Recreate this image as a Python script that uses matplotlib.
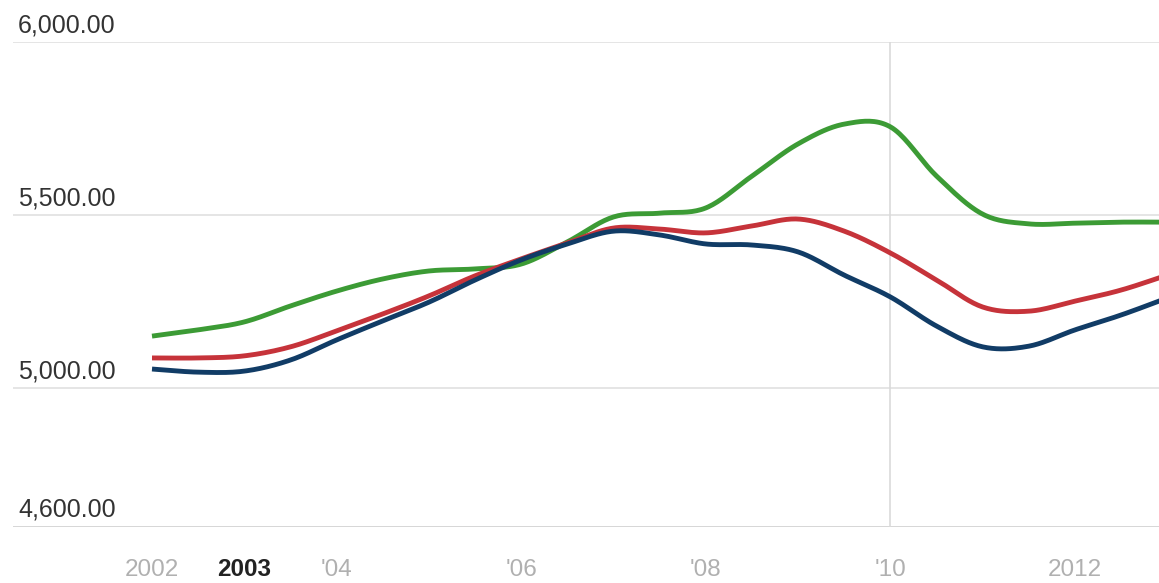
import numpy as np
import matplotlib
matplotlib.use("Agg")
import matplotlib.pyplot as plt

# Datos (cada medio año de 2002 a 2013)
anios = np.arange(2002.0, 2013.01, 0.5)

serie_verde = [5151, 5169, 5192, 5238, 5281, 5316, 5339, 5345, 5359, 5423, 5495, 5506,
               5521, 5613, 5706, 5763, 5755, 5613, 5503, 5475, 5477, 5480, 5480]
serie_roja = [5088, 5088, 5094, 5120, 5166, 5215, 5267, 5325, 5374, 5420, 5463, 5460,
              5449, 5469, 5489, 5454, 5391, 5313, 5235, 5223, 5252, 5284, 5327]
serie_azul = [5056, 5047, 5050, 5082, 5140, 5195, 5249, 5313, 5371, 5417, 5454, 5443,
              5417, 5414, 5394, 5327, 5264, 5180, 5120, 5122, 5169, 5212, 5261]

valores_y = [4600, 5000, 5500, 6000]
etiquetas_y = ["4,600.00", "5,000.00", "5,500.00", "6,000.00"]

posiciones_x = [2002, 2003, 2004, 2006, 2008, 2010, 2012]
etiquetas_x = ["2002", "2003", "'04", "'06", "'08", "'10", "2012"]
seleccion = "2003"
linea_vertical = 2010

colores = {"verde": "#3c9b35", "roja": "#c6333a", "azul": "#113c66"}


def suavizar(x, y, n=20):
    # curva Catmull-Rom para dibujar la línea suave
    x = np.asarray(x, float)
    y = np.asarray(y, float)
    px = np.concatenate([[2 * x[0] - x[1]], x, [2 * x[-1] - x[-2]]])
    py = np.concatenate([[2 * y[0] - y[1]], y, [2 * y[-1] - y[-2]]])
    xs, ys = [], []
    t = np.linspace(0, 1, n, endpoint=False)
    for i in range(1, len(px) - 2):
        for p, out in ((px, xs), (py, ys)):
            p0, p1, p2, p3 = p[i - 1], p[i], p[i + 1], p[i + 2]
            out.extend(0.5 * (2 * p1 + (-p0 + p2) * t
                              + (2 * p0 - 5 * p1 + 4 * p2 - p3) * t ** 2
                              + (-p0 + 3 * p1 - 3 * p2 + p3) * t ** 3))
    xs.append(x[-1])
    ys.append(y[-1])
    return np.array(xs), np.array(ys)


plt.rcParams["font.family"] = ["Liberation Sans", "DejaVu Sans"]

fig = plt.figure(figsize=(11.59, 5.83), dpi=100)
ax = fig.add_axes([13 / 1159, 1 - 527 / 583, 1 - 13 / 1159, 485 / 583])
ax.set_xlim(2000.494, 2012.91)
ax.set_ylim(4600, 6000)
ax.axis("off")

for v in valores_y:
    ax.axhline(v, color="#cfcfcf" if v == valores_y[0] else "#e0e0e0", lw=1.2, zorder=1)
ax.axvline(linea_vertical, color="#dadada", lw=1.2, zorder=1)

for serie, color in ((serie_verde, colores["verde"]),
                     (serie_roja, colores["roja"]),
                     (serie_azul, colores["azul"])):
    xs, ys = suavizar(anios, serie)
    ax.plot(xs, ys, color=color, lw=3.5, solid_capstyle="butt", zorder=3, clip_on=True)

for v, txt in zip(valores_y, etiquetas_y):
    ax.annotate(txt, xy=(0, v), xycoords=ax.get_yaxis_transform(),
                xytext=(5, 17), textcoords="offset pixels",
                ha="left", va="center", fontsize=18, color="#333333")

for x, txt in zip(posiciones_x, etiquetas_x):
    negrita = txt == seleccion
    ax.annotate(txt, xy=(x, 0), xycoords=ax.get_xaxis_transform(),
                xytext=(0, -43), textcoords="offset pixels",
                ha="center", va="center", fontsize=17.5,
                fontweight="bold" if negrita else "normal",
                color="#222222" if negrita else "#b0b0b0")

fig.savefig("out.png", dpi=100)
